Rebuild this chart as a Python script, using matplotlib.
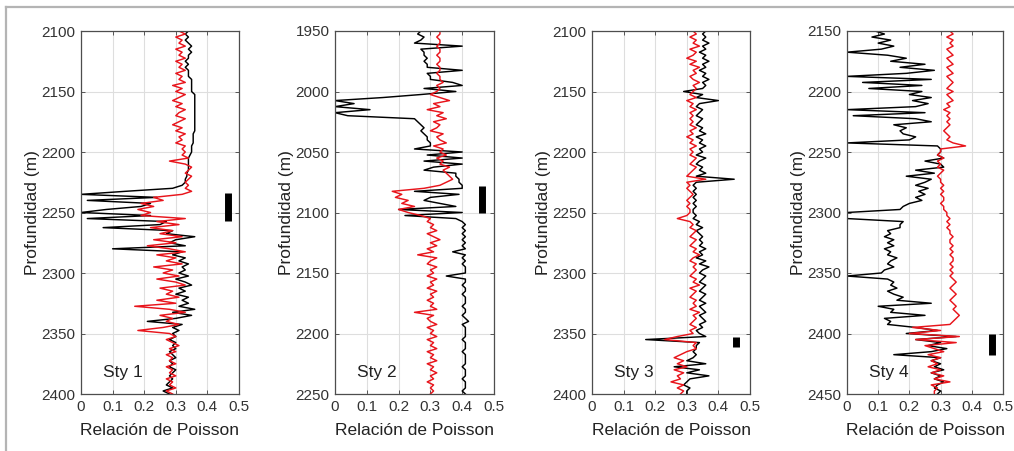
import numpy as np
import matplotlib
matplotlib.use('Agg')
import matplotlib.pyplot as plt
from matplotlib.lines import Line2D

plt.rcParams['font.family'] = ['Liberation Sans', 'DejaVu Sans']

# depth window of each well (m)
tops = [2100, 1950, 2100, 2150]
bottoms = [2400, 2250, 2400, 2450]
well_names = ['Sty 1', 'Sty 2', 'Sty 3', 'Sty 4']

# Poisson ratio every 2.5 m: black = log, red = inversion
sty1_black = [0.34, 0.33, 0.34, 0.33, 0.34, 0.35, 0.34, 0.35, 0.34, 0.34,
              0.33, 0.34, 0.33, 0.34, 0.34, 0.34, 0.35, 0.35, 0.35, 0.35,
              0.35, 0.36, 0.36, 0.36, 0.36, 0.36, 0.36, 0.36, 0.36, 0.36,
              0.36, 0.36, 0.36, 0.36, 0.355, 0.355, 0.355, 0.355, 0.35, 0.35,
              0.35, 0.345, 0.34, 0.34, 0.34, 0.34, 0.34, 0.335, 0.335, 0.33,
              0.33, 0.32, 0.29, 0.14, 0.00, 0.24, 0.02, 0.22, 0.19, 0.08,
              0.00, 0.22, 0.02, 0.27, 0.25, 0.07, 0.29, 0.27, 0.36, 0.30,
              0.28, 0.33, 0.10, 0.32, 0.29, 0.33, 0.31, 0.34, 0.32, 0.33,
              0.31, 0.34, 0.30, 0.33, 0.35, 0.31, 0.33, 0.30, 0.34, 0.32,
              0.34, 0.31, 0.36, 0.29, 0.35, 0.30, 0.21, 0.32, 0.29, 0.31,
              0.29, 0.30, 0.28, 0.30, 0.29, 0.30, 0.28, 0.29, 0.30, 0.28,
              0.29, 0.28, 0.30, 0.29, 0.28, 0.29, 0.28, 0.27, 0.29, 0.26,
              0.28]
sty1_red = [0.31, 0.33, 0.30, 0.32, 0.31, 0.33, 0.30, 0.32, 0.31, 0.33,
            0.30, 0.32, 0.31, 0.33, 0.30, 0.32, 0.31, 0.33, 0.29, 0.32,
            0.30, 0.33, 0.31, 0.29, 0.32, 0.30, 0.33, 0.31, 0.30, 0.33,
            0.31, 0.29, 0.32, 0.30, 0.33, 0.31, 0.32, 0.30, 0.33, 0.32,
            0.33, 0.32, 0.34, 0.28, 0.33, 0.35, 0.34, 0.33, 0.35, 0.34,
            0.33, 0.34, 0.33, 0.35, 0.32, 0.23, 0.26, 0.19, 0.23, 0.18,
            0.22, 0.19, 0.33, 0.24, 0.31, 0.22, 0.29, 0.25, 0.32, 0.23,
            0.30, 0.21, 0.28, 0.33, 0.24, 0.30, 0.27, 0.32, 0.23, 0.29,
            0.26, 0.31, 0.24, 0.30, 0.33, 0.25, 0.29, 0.27, 0.31, 0.24,
            0.30, 0.17, 0.28, 0.33, 0.25, 0.29, 0.27, 0.31, 0.26, 0.18,
            0.28, 0.30, 0.27, 0.29, 0.31, 0.28, 0.30, 0.27, 0.29, 0.28,
            0.30, 0.27, 0.29, 0.28, 0.30, 0.27, 0.29, 0.28, 0.30, 0.27,
            0.29]

sty2_black = [0.27, 0.26, 0.28, 0.27, 0.25, 0.40, 0.27, 0.28, 0.28, 0.29,
              0.28, 0.29, 0.29, 0.40, 0.29, 0.30, 0.30, 0.37, 0.40, 0.28,
              0.38, 0.27, 0.15, 0.00, 0.06, 0.00, 0.11, 0.00, 0.04, 0.25,
              0.26, 0.27, 0.28, 0.27, 0.28, 0.29, 0.29, 0.30, 0.30, 0.25,
              0.40, 0.29, 0.40, 0.28, 0.40, 0.31, 0.28, 0.38, 0.38, 0.39,
              0.39, 0.40, 0.40, 0.25, 0.39, 0.30, 0.28, 0.33, 0.38, 0.20,
              0.40, 0.22, 0.38, 0.40, 0.41, 0.40, 0.41, 0.40, 0.41, 0.40,
              0.41, 0.40, 0.41, 0.37, 0.41, 0.40, 0.41, 0.40, 0.41, 0.41,
              0.41, 0.35, 0.41, 0.41, 0.40, 0.41, 0.41, 0.40, 0.41, 0.41,
              0.41, 0.40, 0.41, 0.41, 0.40, 0.41, 0.42, 0.40, 0.41, 0.41,
              0.41, 0.41, 0.40, 0.41, 0.41, 0.41, 0.40, 0.41, 0.41, 0.41,
              0.41, 0.40, 0.41, 0.41, 0.41, 0.40, 0.41, 0.41, 0.41, 0.40,
              0.41]
sty2_red = [0.33, 0.33, 0.32, 0.33, 0.33, 0.32, 0.33, 0.33, 0.32, 0.33,
            0.33, 0.32, 0.33, 0.33, 0.32, 0.33, 0.33, 0.34, 0.32, 0.33,
            0.32, 0.30, 0.33, 0.36, 0.31, 0.33, 0.29, 0.34, 0.32, 0.35,
            0.31, 0.33, 0.32, 0.30, 0.34, 0.32, 0.33, 0.35, 0.31, 0.34,
            0.33, 0.35, 0.32, 0.34, 0.33, 0.36, 0.34, 0.35, 0.36, 0.37,
            0.35, 0.33, 0.28, 0.18, 0.21, 0.19, 0.23, 0.21, 0.25, 0.20,
            0.23, 0.27, 0.30, 0.29, 0.31, 0.30, 0.32, 0.29, 0.31, 0.33,
            0.30, 0.32, 0.29, 0.31, 0.26, 0.32, 0.30, 0.29, 0.32, 0.30,
            0.31, 0.29, 0.32, 0.30, 0.31, 0.29, 0.32, 0.30, 0.31, 0.29,
            0.31, 0.30, 0.32, 0.25, 0.31, 0.29, 0.30, 0.32, 0.29, 0.31,
            0.30, 0.32, 0.29, 0.31, 0.30, 0.32, 0.29, 0.31, 0.30, 0.32,
            0.29, 0.31, 0.30, 0.32, 0.30, 0.31, 0.29, 0.31, 0.30, 0.31,
            0.30]

sty3_black = [0.36, 0.35, 0.36, 0.35, 0.37, 0.35, 0.36, 0.34, 0.36, 0.35,
              0.37, 0.35, 0.36, 0.34, 0.36, 0.35, 0.37, 0.35, 0.36, 0.35,
              0.29, 0.35, 0.33, 0.40, 0.34, 0.33, 0.35, 0.34, 0.33, 0.35,
              0.34, 0.33, 0.35, 0.34, 0.36, 0.33, 0.35, 0.34, 0.36, 0.34,
              0.35, 0.33, 0.36, 0.34, 0.33, 0.35, 0.34, 0.36, 0.33, 0.45,
              0.33, 0.32, 0.33, 0.32, 0.33, 0.32, 0.33, 0.32, 0.33, 0.32,
              0.32, 0.33, 0.32, 0.34, 0.33, 0.35, 0.33, 0.34, 0.35, 0.34,
              0.35, 0.34, 0.36, 0.34, 0.35, 0.33, 0.36, 0.34, 0.37, 0.35,
              0.34, 0.36, 0.35, 0.34, 0.36, 0.35, 0.34, 0.36, 0.35, 0.34,
              0.36, 0.34, 0.35, 0.36, 0.34, 0.35, 0.36, 0.34, 0.35, 0.33,
              0.34, 0.36, 0.17, 0.34, 0.33, 0.33, 0.32, 0.33, 0.32, 0.30,
              0.36, 0.26, 0.34, 0.30, 0.37, 0.31, 0.30, 0.29, 0.31, 0.30,
              0.30]
sty3_red = [0.32, 0.33, 0.31, 0.33, 0.32, 0.34, 0.31, 0.33, 0.32, 0.30,
            0.33, 0.31, 0.34, 0.32, 0.33, 0.31, 0.32, 0.34, 0.32, 0.33,
            0.32, 0.31, 0.33, 0.30, 0.32, 0.31, 0.33, 0.31, 0.32, 0.31,
            0.32, 0.31, 0.33, 0.31, 0.32, 0.30, 0.32, 0.31, 0.33, 0.31,
            0.32, 0.31, 0.33, 0.32, 0.31, 0.33, 0.32, 0.31, 0.30, 0.36,
            0.30, 0.31, 0.30, 0.31, 0.32, 0.31, 0.30, 0.31, 0.30, 0.31,
            0.31, 0.30, 0.27, 0.31, 0.32, 0.31, 0.33, 0.32, 0.31, 0.33,
            0.32, 0.31, 0.33, 0.32, 0.34, 0.32, 0.31, 0.33, 0.32, 0.33,
            0.32, 0.31, 0.33, 0.32, 0.34, 0.31, 0.33, 0.32, 0.31, 0.33,
            0.32, 0.33, 0.31, 0.34, 0.32, 0.33, 0.32, 0.31, 0.33, 0.31,
            0.32, 0.27, 0.23, 0.33, 0.32, 0.33, 0.30, 0.28, 0.26, 0.29,
            0.27, 0.30, 0.26, 0.29, 0.27, 0.28, 0.25, 0.29, 0.27, 0.29,
            0.28]

sty4_black = [0.09, 0.12, 0.08, 0.14, 0.10, 0.15, 0.11, 0.00, 0.13, 0.19,
              0.14, 0.25, 0.17, 0.28, 0.19, 0.00, 0.27, 0.05, 0.24, 0.07,
              0.24, 0.20, 0.27, 0.21, 0.26, 0.22, 0.00, 0.25, 0.02, 0.22,
              0.27, 0.15, 0.19, 0.17, 0.18, 0.22, 0.20, 0.00, 0.29, 0.30,
              0.30, 0.29, 0.31, 0.25, 0.30, 0.31, 0.22, 0.28, 0.19, 0.27,
              0.25, 0.22, 0.26, 0.23, 0.25, 0.22, 0.24, 0.20, 0.18, 0.17,
              0.00, 0.00, 0.00, 0.18, 0.17, 0.17, 0.13, 0.14, 0.12, 0.15,
              0.13, 0.15, 0.12, 0.14, 0.13, 0.16, 0.14, 0.13, 0.15, 0.12,
              0.11, 0.00, 0.13, 0.15, 0.14, 0.16, 0.13, 0.15, 0.18, 0.16,
              0.27, 0.10, 0.15, 0.14, 0.25, 0.12, 0.14, 0.13, 0.22, 0.29,
              0.19, 0.35, 0.22, 0.30, 0.26, 0.32, 0.27, 0.15, 0.30, 0.27,
              0.30, 0.28, 0.31, 0.27, 0.30, 0.28, 0.31, 0.29, 0.28, 0.30,
              0.29]
sty4_red = [0.33, 0.34, 0.32, 0.34, 0.33, 0.34, 0.32, 0.33, 0.34, 0.32,
            0.33, 0.34, 0.32, 0.33, 0.34, 0.32, 0.33, 0.34, 0.33, 0.32,
            0.34, 0.32, 0.33, 0.34, 0.32, 0.33, 0.31, 0.33, 0.32, 0.33,
            0.32, 0.33, 0.32, 0.31, 0.32, 0.33, 0.32, 0.34, 0.38, 0.30,
            0.30, 0.29, 0.31, 0.29, 0.30, 0.29, 0.31, 0.30, 0.29, 0.30,
            0.30, 0.31, 0.30, 0.31, 0.30, 0.31, 0.31, 0.30, 0.31, 0.31,
            0.32, 0.32, 0.33, 0.32, 0.33, 0.32, 0.33, 0.33, 0.34, 0.33,
            0.33, 0.34, 0.33, 0.34, 0.33, 0.34, 0.34, 0.33, 0.34, 0.33,
            0.34, 0.33, 0.34, 0.35, 0.34, 0.33, 0.34, 0.35, 0.34, 0.33,
            0.34, 0.35, 0.34, 0.35, 0.36, 0.35, 0.34, 0.33, 0.21, 0.30,
            0.20, 0.36, 0.22, 0.35, 0.25, 0.28, 0.31, 0.26, 0.30, 0.27,
            0.29, 0.26, 0.30, 0.27, 0.31, 0.28, 0.33, 0.27, 0.29, 0.28,
            0.28]

black_logs = [sty1_black, sty2_black, sty3_black, sty4_black]
red_logs = [sty1_red, sty2_red, sty3_red, sty4_red]

# marked interval in each well
bar_x = [0.464, 0.462, 0.456, 0.466]
bar_top = [2234, 2078, 2353, 2400]
bar_bottom = [2257, 2100, 2361, 2418]

x_ticks = [0, 0.1, 0.2, 0.3, 0.4, 0.5]
x_ticklabels = ['0', '0.1', '0.2', '0.3', '0.4', '0.5']

fig = plt.figure(figsize=(10.14, 4.51), dpi=100)
W, H = 1014.0, 451.0

# axes boxes in pixels: left, width
boxes = [(81, 158), (335, 159), (592, 158), (847, 156)]
ax_top, ax_bottom = 31, 394

for i in range(4):
    left, width = boxes[i]
    ax = fig.add_axes([left / W, (H - ax_bottom) / H, width / W, (ax_bottom - ax_top) / H])

    z = np.linspace(tops[i], bottoms[i], len(black_logs[i]))
    ax.plot(black_logs[i], z, color='black', lw=1.05)
    ax.plot(red_logs[i], z, color='#e8141b', lw=1.05)
    ax.vlines(bar_x[i], bar_top[i], bar_bottom[i], color='black', lw=5)

    ax.set_xlim(0, 0.5)
    ax.set_ylim(bottoms[i], tops[i])
    ax.set_xticks(x_ticks)
    ax.set_xticklabels(x_ticklabels)
    ax.set_yticks(np.arange(tops[i], bottoms[i] + 1, 50))

    ax.set_axisbelow(True)
    ax.grid(True, color='#dedede', lw=0.8)
    ax.tick_params(direction='in', length=3, width=0.7, top=True, right=True,
                   labelsize=11, labelcolor='#333333', color='#555555', pad=4)
    for s in ax.spines.values():
        s.set_color('#4d4d4d')
        s.set_linewidth(0.9)

    ax.set_xlabel('Relación de Poisson', fontsize=12.5, color='#222222', labelpad=7)
    ax.set_ylabel('Profundidad (m)', fontsize=12.5, color='#222222', labelpad=1)
    ax.text(0.07, bottoms[i] - 14, well_names[i], fontsize=12.5, color='#222222')

# light frame on top and left
fig.add_artist(Line2D([6 / W, 6 / W], [0, 1 - 7 / H], color='#b4b4b4', lw=1.6))
fig.add_artist(Line2D([6 / W, 1], [1 - 7 / H, 1 - 7 / H], color='#b4b4b4', lw=1.6))

fig.savefig('out.png', dpi=100)
